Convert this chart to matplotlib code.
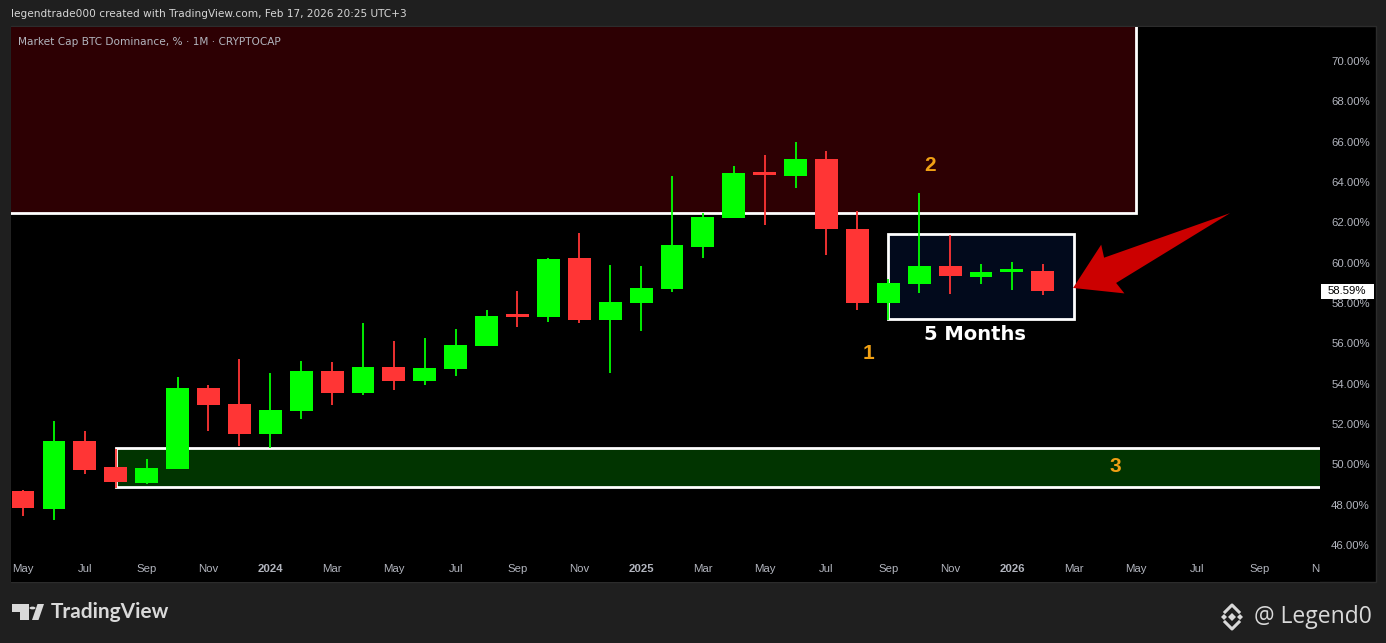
import matplotlib
matplotlib.use('Agg')
import numpy as np
from matplotlib import pyplot as plt
from matplotlib.patches import Rectangle, Polygon, Circle
from matplotlib import transforms

# monthly candles, index 0 = May 2023
opens = [48.70, 47.80, 51.17, 49.88, 49.09, 49.79, 53.80, 53.00, 51.52, 52.66,
         54.65, 53.55, 54.84, 54.15, 54.74, 55.88, 57.40, 57.32, 60.25, 57.17,
         58.02, 58.71, 60.79, 62.23, 64.46, 64.31, 65.16, 61.69, 58.02, 58.96,
         59.85, 59.31, 59.60, 59.60]
highs = [48.75, 52.17, 51.67, 50.75, 50.28, 54.35, 53.95, 55.24, 54.55, 55.14,
         55.09, 57.03, 56.13, 56.28, 56.73, 57.67, 58.60, 60.22, 61.49, 59.90,
         59.85, 64.31, 62.48, 64.81, 65.35, 66.00, 65.55, 62.58, 59.20, 63.47,
         61.39, 59.95, 60.05, 59.95]
lows = [47.45, 47.26, 49.54, 48.84, 49.04, 49.79, 51.67, 50.93, 50.83, 52.27,
        52.96, 53.46, 53.70, 53.95, 54.40, 55.85, 56.83, 57.07, 57.03, 54.55,
        56.63, 58.56, 60.25, 62.20, 61.88, 63.72, 60.40, 57.67, 57.17, 58.51,
        58.46, 58.96, 58.66, 58.41]
closes = [47.85, 51.17, 49.74, 49.13, 49.84, 53.80, 52.96, 51.52, 52.71, 54.65,
          53.55, 54.84, 54.15, 54.79, 55.93, 57.37, 57.35, 60.20, 57.17, 58.07,
          58.76, 60.89, 62.28, 64.46, 64.40, 65.16, 61.69, 58.02, 59.00, 59.85,
          59.36, 59.55, 59.65, 58.59]

month_labels = ['May', 'Jul', 'Sep', 'Nov', '2024', 'Mar', 'May', 'Jul', 'Sep', 'Nov', '2025',
                'Mar', 'May', 'Jul', 'Sep', 'Nov', '2026', 'Mar', 'May', 'Jul', 'Sep', 'Nov']
price_ticks = [46, 48, 50, 52, 54, 56, 58, 60, 62, 64, 66, 68, 70]
last_price = 58.59

# drawings (month index, percent)
resistance_zone = (-2, 36.0, 62.46, 80)
support_zone = (3.0, 50, 48.86, 50.79)
range_box = (28.0, 34.0, 57.22, 61.44)

W, H = 1386, 643
UP = '#00ff00'
DOWN = '#ff3535'
AXIS_TXT = '#b2b5be'


def fx(x):
    return x / W


def fy(y):
    return 1 - y / H


fig = plt.figure(figsize=(W / 100, H / 100), dpi=100, facecolor='#1f1f1f')

# black chart panel
fig.patches.append(Rectangle((fx(11), fy(582)), fx(1376) - fx(11), fy(26) - fy(582),
                             transform=fig.transFigure, facecolor='black',
                             edgecolor='#2c2c2c', linewidth=1, zorder=-10))

ax = fig.add_axes([fx(11), fy(582), fx(1320) - fx(11), fy(27) - fy(582)])
ax.set_zorder(2)
ax.set_facecolor('black')
for s in ax.spines.values():
    s.set_visible(False)
ax.set_xlim(-0.39, 41.97)
ax.set_ylim(44.17, 71.69)
ax.set_xticks([])

# zones
x0, x1, y0, y1 = resistance_zone
ax.add_patch(Rectangle((x0, y0), x1 - x0, y1 - y0, facecolor='#2d0003',
                       edgecolor='white', linewidth=2, zorder=1))
x0, x1, y0, y1 = support_zone
ax.add_patch(Rectangle((x0, y0), x1 - x0, y1 - y0, facecolor='#013400',
                       edgecolor='white', linewidth=2, zorder=1))
x0, x1, y0, y1 = range_box
ax.add_patch(Rectangle((x0, y0), x1 - x0, y1 - y0, facecolor='#020a1c',
                       edgecolor='white', linewidth=2, zorder=1))

# candles
bw = 0.74
for i in range(len(opens)):
    o, h, l, c = opens[i], highs[i], lows[i], closes[i]
    col = UP if c >= o else DOWN
    ax.plot([i, i], [l, h], color=col, linewidth=1.3, zorder=3, solid_capstyle='butt')
    bottom = min(o, c)
    height = max(abs(c - o), 0.13)
    if abs(c - o) < 0.13:
        bottom = (o + c) / 2 - 0.065
    ax.add_patch(Rectangle((i - bw / 2, bottom), bw, height, facecolor=col,
                           edgecolor='none', zorder=4))

# month labels on time axis
lab_tr = transforms.blended_transform_factory(ax.transData, ax.transAxes)
for k, lab in enumerate(month_labels):
    ax.text(2 * k, 0.0234, lab, transform=lab_tr, ha='center', va='center',
            fontsize=8.2, family='Liberation Sans', color=AXIS_TXT, clip_on=True,
            fontweight='bold' if lab.isdigit() else 'normal')

# price scale on the right
ax.yaxis.tick_right()
ax.set_yticks(price_ticks)
ax.set_yticklabels(['%.2f%%' % p for p in price_ticks])
ax.tick_params(axis='y', length=0, pad=8, labelsize=8.2, labelcolor=AXIS_TXT)
for t in ax.get_yticklabels():
    t.set_family('Liberation Sans')

# last price tag
side_tr = transforms.blended_transform_factory(ax.transAxes, ax.transData)
ax.add_patch(Rectangle((1.0008, last_price - 0.37), 0.0405, 0.74, transform=side_tr,
                       facecolor='white', edgecolor='none', clip_on=False, zorder=9))
ax.text(1.0061, last_price, '%.2f%%' % last_price, transform=side_tr,
        ha='left', va='center', fontsize=8.2, family='Liberation Sans', color='black',
        zorder=10, clip_on=False)

# annotations
orange = '#f0a014'
num_font = dict(color=orange, fontsize=15, fontweight='bold', family='Liberation Sans',
                ha='center', va='center', zorder=6)
ax.text(27.35, 55.5, '1', **num_font)
ax.text(29.35, 64.8, '2', **num_font)
ax.text(35.35, 49.9, '3', **num_font)
ax.text(30.8, 56.42, '5 Months', color='white', fontsize=14, fontweight='bold',
        ha='center', va='center', zorder=6)

# big red arrow pointing at the range box
tail = (39.06, 62.46)
tip = (33.98, 58.75)
fig.canvas.draw()
T = ax.transData.transform(tip)
S = ax.transData.transform(tail)
u = (T - S) / np.hypot(*(T - S))
n = np.array([-u[1], u[0]])
pts = [T,
       T - u * 44 + n * 27,
       T - u * 41 + n * 14,
       S,
       T - u * 41 - n * 14,
       T - u * 44 - n * 27]
pts = ax.transData.inverted().transform(np.array(pts))
ax.add_patch(Polygon(pts, closed=True, facecolor='#cc0000', edgecolor='none', zorder=8))

# header
fig.text(fx(11), fy(14), 'legendtrade000 created with TradingView.com, Feb 17, 2026 20:25 UTC+3',
         fontsize=7.6, color='#d6d6d6', va='center', ha='left')
fig.text(fx(18), fy(42), 'Market Cap BTC Dominance, % \u00b7 1M \u00b7 CRYPTOCAP',
         fontsize=7.6, color=AXIS_TXT, va='center', ha='left', zorder=5)

# footer: TradingView logo
logo = '#d9d9d9'
fig.patches.append(Rectangle((fx(12), fy(612)), fx(29) - fx(12), fy(604) - fy(612),
                             transform=fig.transFigure, facecolor=logo, edgecolor='none'))
fig.patches.append(Rectangle((fx(20), fy(620)), fx(29) - fx(20), fy(604) - fy(620),
                             transform=fig.transFigure, facecolor=logo, edgecolor='none'))
fig.patches.append(Circle((fx(32.5), fy(608)), 3.0 / W, transform=fig.transFigure,
                          facecolor=logo, edgecolor='none'))
fig.patches.append(Polygon([(fx(32), fy(620)), (fx(38.5), fy(620)), (fx(44), fy(604)), (fx(37.5), fy(604))],
                           closed=True, transform=fig.transFigure, facecolor=logo, edgecolor='none'))
fig.text(fx(51), fy(612), 'TradingView', fontsize=15, fontweight='bold', color=logo,
         va='center', ha='left', family='Lato')

# footer: Legend0 signature
cx, cy = 1232, 617
for dx, dy, s in [(0, 0, 4), (-8, 0, 3), (8, 0, 3)]:
    fig.patches.append(Polygon([(fx(cx + dx - s), fy(cy + dy)), (fx(cx + dx), fy(cy + dy - s)),
                                (fx(cx + dx + s), fy(cy + dy)), (fx(cx + dx), fy(cy + dy + s))],
                               closed=True, transform=fig.transFigure, facecolor=logo, edgecolor='none'))
for sgn in (-1, 1):
    fig.lines.append(plt.Line2D([fx(cx - 7), fx(cx), fx(cx + 7)],
                                [fy(cy + sgn * 5), fy(cy + sgn * 12), fy(cy + sgn * 5)],
                                transform=fig.transFigure, color=logo, linewidth=2.2))
fig.text(fx(1254), fy(617), '@ Legend0', fontsize=16.5, color=logo, va='center', ha='left',
         family='Open Sans')

plt.savefig('out.png', dpi=100, facecolor=fig.get_facecolor())
